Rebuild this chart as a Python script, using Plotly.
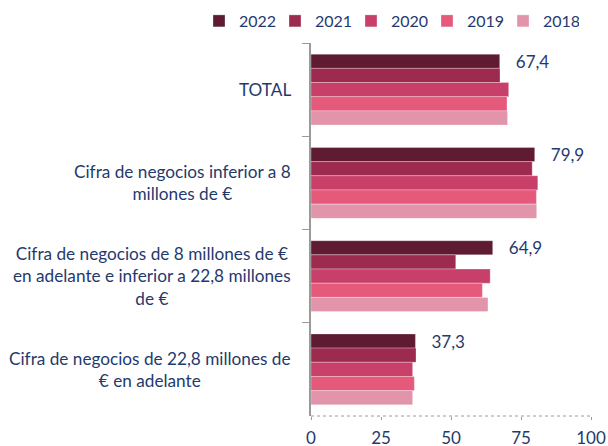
import plotly.graph_objects as go

categories = ["TOTAL",
              "Cifra de negocios inferior a 8 millones de €",
              "Cifra de negocios de 8 millones de € en adelante e inferior a 22,8 millones de €",
              "Cifra de negocios de 22,8 millones de € en adelante"]
cat_labels = ["TOTAL",
              "Cifra de negocios inferior a 8<br>millones de €",
              "Cifra de negocios de 8 millones de €<br>en adelante e inferior a 22,8 millones<br>de €",
              "Cifra de negocios de 22,8 millones de<br>€ en adelante"]
years = ["2022", "2021", "2020", "2019", "2018"]
values = {
    "2022": [67.4, 79.9, 64.9, 37.3],
    "2021": [67.5, 79.0, 51.7, 37.5],
    "2020": [70.6, 81.0, 64.0, 36.3],
    "2019": [70.0, 80.5, 61.2, 36.9],
    "2018": [70.2, 80.6, 63.2, 36.3],
}
colors = {"2022": "#5f1b32", "2021": "#9d2b4f", "2020": "#c83f69",
          "2019": "#e5597b", "2018": "#e194aa"}
x_ticks = [0, 25, 50, 75, 100]

navy = "#1f3a6e"
font_family = "Lato, 'Open Sans', sans-serif"

fig = go.Figure()
for yr in years:
    vals = values[yr]
    fig.add_trace(go.Bar(
        y=categories, x=vals, name=yr, orientation="h",
        marker=dict(color=colors[yr], line=dict(color="rgba(255,255,255,0.6)", width=0.5)),
        text=["   " + f"{v:.1f}".replace(".", ",") for v in vals] if yr == "2022" else None,
        textposition="outside" if yr == "2022" else "none",
        constraintext="none",
        textfont=dict(size=17, color=navy, family=font_family),
        cliponaxis=False,
    ))

for cat, lab in zip(categories, cat_labels):
    fig.add_annotation(x=0, xref="paper", xanchor="right", xshift=-18,
                       y=cat, yref="y", yanchor="middle",
                       text=lab, showarrow=False, align="center",
                       font=dict(size=17.2, color=navy, family=font_family))

fig.add_shape(type="line", xref="paper", yref="paper", x0=0, x1=1, y0=0, y1=0,
              line=dict(color="#9a9a9a", width=1, dash="dot"))

fig.update_layout(
    width=608, height=446,
    margin=dict(l=311, r=17, t=43, b=30, autoexpand=False),
    paper_bgcolor="white", plot_bgcolor="white",
    barmode="group", bargap=0.24, bargroupgap=0,
    font=dict(family=font_family, color=navy),
    showlegend=True,
    legend=dict(orientation="h", xref="paper", yref="paper",
                x=-0.4, xanchor="left", y=1.1046, yanchor="top",
                bgcolor="rgba(0,0,0,0)",
                font=dict(size=16, color=navy, family=font_family),
                itemwidth=30, traceorder="normal",
                entrywidth=31, entrywidthmode="pixels"),
    xaxis=dict(range=[0, 100], tickvals=x_ticks, showgrid=False, zeroline=False,
               showline=False, ticks="outside", ticklen=3, tickcolor="#9a9a9a",
               ticklabelstandoff=4,
               tickfont=dict(size=17, color=navy, family=font_family)),
    yaxis=dict(autorange="reversed", showticklabels=False, showgrid=False,
               showline=True, linecolor="#9a9a9a", linewidth=1.5,
               ticks="outside", tickson="boundaries", ticklen=7, tickcolor="#9a9a9a"),
)

fig.write_html("out.html", config={"displayModeBar": False},
               post_script="document.body.style.margin='0px';")
